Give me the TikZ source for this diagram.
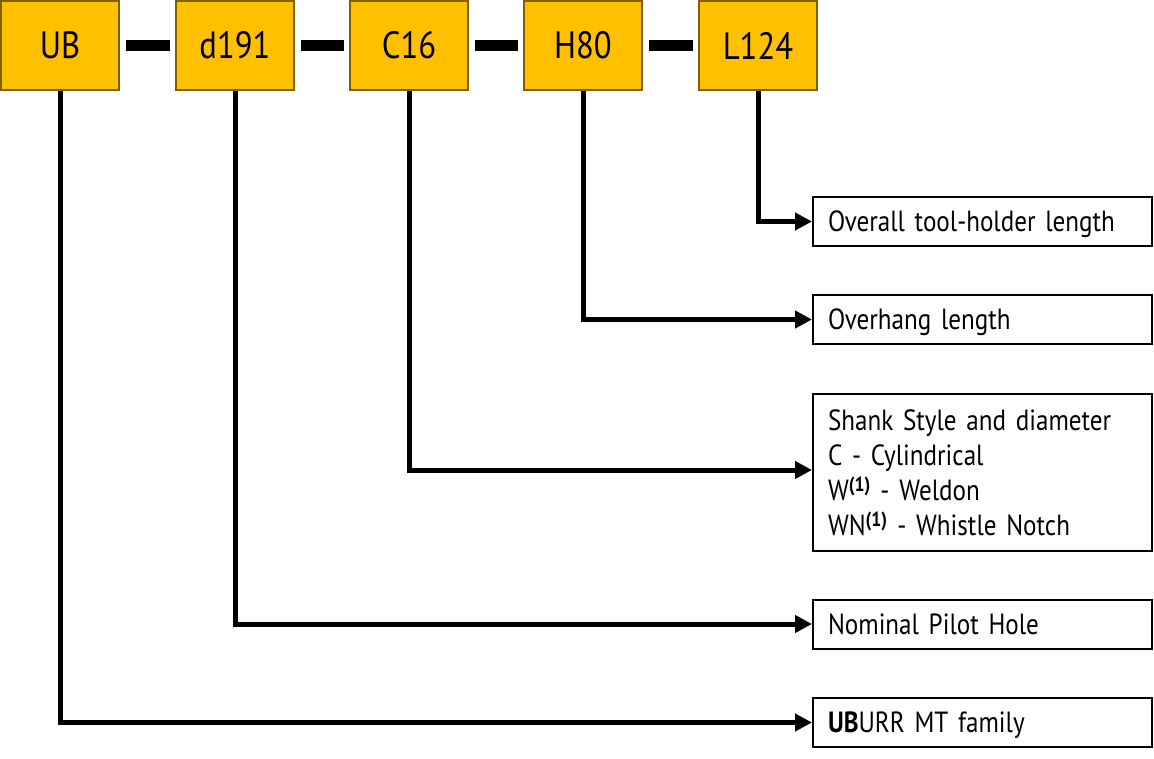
\documentclass[tikz,border=0pt]{standalone}
\usepackage{fontspec}
\setmainfont{PT Sans}[FakeStretch=0.86]
\usepackage{xcolor}
\usepackage{tikz}
\usetikzlibrary{arrows.meta, positioning, calc}
\definecolor{codefill}{HTML}{FFC000}
\definecolor{codeedge}{HTML}{7F6000}

\begin{document}
\begin{tikzpicture}[x=1pt, y=-1pt,
  codebox/.style={draw=codeedge, line width=2pt, fill=codefill,
    minimum width=118pt, minimum height=89pt, inner sep=0pt,
    font=\fontsize{38}{40}\selectfont},
  infobox/.style={draw, line width=2pt, anchor=west, text width=309pt,
    inner xsep=15pt, minimum height=49pt, align=left,
    font=\fontsize{29.2}{35}\selectfont},
  oneline/.style={infobox,
    execute at begin node={\rule[-0.25em]{0pt}{1.2em}}},
  link/.style={line width=5pt, -{Triangle[length=17pt, width=17pt]}},
  joiner/.style={line width=11pt}]
\useasboundingbox (0,0) rectangle (1154,759);
% Code boxes
\node[codebox] (ub) at (60,45.5) {UB};
\node[codebox] (d) at (235,45.5) {d191};
\node[codebox] (c) at (409,45.5) {C16};
\node[codebox] (h) at (583,45.5) {H80};
\node[codebox] (l) at (758,45.5) {L124};
% Dashes between boxes
\draw[joiner] ([xshift=6pt]ub.east) -- ([xshift=-5pt]d.west);
\draw[joiner] ([xshift=6pt]d.east) -- ([xshift=-5pt]c.west);
\draw[joiner] ([xshift=6pt]c.east) -- ([xshift=-5pt]h.west);
\draw[joiner] ([xshift=6pt]h.east) -- ([xshift=-5pt]l.west);
% Meaning boxes
\node[oneline] (len) at (812,221.5) {Overall tool-holder length};
\node[oneline] (over) at (812,319.5) {Overhang length};
\node[infobox, minimum height=157pt] (shank) at (812,472.5)
  {Shank Style and diameter\\
   C - Cylindrical\\
   W\textsuperscript{\textbf{(1)}} - Weldon\\
   WN\textsuperscript{\textbf{(1)}} - Whistle Notch};
\node[oneline] (pilot) at (812,624) {Nominal Pilot Hole};
\node[oneline] (fam) at (812,722.5) {\textbf{UB}URR MT family};
% Connectors
\draw[link] (l.south) |- (len.west);
\draw[link] (h.south) |- (over.west);
\draw[link] (c.south) |- ([yshift=2.5pt]shank.west);
\draw[link] (d.south) |- (pilot.west);
\draw[link] (ub.south) |- (fam.west);
\end{tikzpicture}
\end{document}
